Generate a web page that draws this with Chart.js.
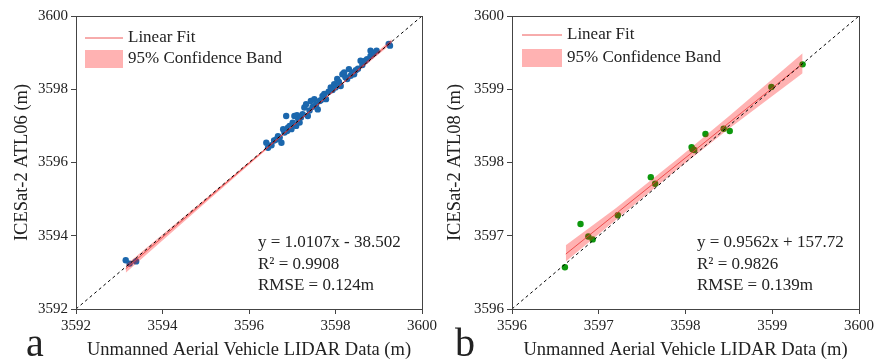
<!DOCTYPE html>
<html>
<head>
<meta charset="utf-8">
<script src="https://cdn.jsdelivr.net/npm/chart.js@4"></script>
<style>
  html, body { margin: 0; padding: 0; background: #fff; }
  #wrap { position: relative; width: 877px; height: 362px; overflow: hidden; }
  canvas { position: absolute; top: 0; }
  #panelA { left: 0; }
  #panelB { left: 440px; }
</style>
</head>
<body>
<div id="wrap">
  <canvas id="panelA" width="440" height="362"></canvas>
  <canvas id="panelB" width="437" height="362"></canvas>
</div>
<script>
// ---- panel a : ATL06 vs UAV LIDAR ----
const atl06Uav = [3593.15, 3593.24, 3593.39,
  3596.40, 3596.44, 3596.52, 3596.58, 3596.63, 3596.67, 3596.71, 3596.75, 3596.79, 3596.82,
  3596.86, 3596.88, 3596.90, 3596.94, 3596.98, 3597.01, 3597.05, 3597.09, 3597.11, 3597.14,
  3597.17, 3597.20, 3597.24, 3597.28, 3597.32, 3597.36, 3597.40, 3597.43, 3597.47, 3597.51,
  3597.55, 3597.59, 3597.63, 3597.66, 3597.70, 3597.74, 3597.78, 3597.84, 3597.89, 3597.93,
  3597.97, 3598.00, 3598.04, 3598.08, 3598.12, 3598.16, 3598.20, 3598.23, 3598.27, 3598.31,
  3598.35, 3598.39, 3598.43, 3598.47, 3598.52, 3598.58, 3598.62, 3598.69, 3598.73, 3598.81,
  3598.81, 3598.85, 3598.90, 3598.95, 3599.23, 3599.26];
const atl06Ice = [3593.33, 3593.24, 3593.30,
  3596.54, 3596.40, 3596.47, 3596.60, 3596.63, 3596.72, 3596.68, 3596.54, 3596.91, 3596.82,
  3597.27, 3596.86, 3596.95, 3597.00, 3596.91, 3597.09, 3597.27, 3597.00, 3597.29, 3597.18,
  3597.09, 3597.23, 3597.32, 3597.50, 3597.59, 3597.27, 3597.42, 3597.68, 3597.52, 3597.73,
  3597.58, 3597.45, 3597.68, 3597.70, 3597.82, 3597.87, 3597.73, 3597.93, 3598.05, 3597.98,
  3598.14, 3598.05, 3598.28, 3598.20, 3598.09, 3598.41, 3598.46, 3598.33, 3598.28, 3598.55,
  3598.37, 3598.46, 3598.41, 3598.52, 3598.56, 3598.78, 3598.66, 3598.78, 3598.82, 3598.91,
  3599.05, 3598.96, 3599.00, 3599.05, 3599.24, 3599.19];
const fitA_x = [3593.15, 3599.30];
const fitA_y = [3593.10, 3599.31];
const bandA_x = [3593.15, 3595.00, 3597.00, 3598.00, 3599.30];
const bandA_hi = [3593.20, 3595.02, 3597.01, 3598.02, 3599.37];
const bandA_lo = [3592.99, 3594.91, 3596.96, 3597.97, 3599.25];
const statsA = ['y = 1.0107x - 38.502', 'R² = 0.9908', 'RMSE = 0.124m'];

// ---- panel b : ATL08 vs UAV LIDAR ----
const atl08Uav = [3596.61, 3596.79, 3596.88, 3596.93, 3597.22, 3597.60, 3597.65, 3598.07,
  3598.08, 3598.10, 3598.23, 3598.44, 3598.51, 3598.99, 3599.35];
const atl08Ice = [3596.57, 3597.16, 3596.99, 3596.95, 3597.28, 3597.80, 3597.71, 3598.21,
  3598.18, 3598.17, 3598.39, 3598.46, 3598.43, 3599.03, 3599.34];
const fitB_x = [3596.62, 3599.35];
const fitB_y = [3596.75, 3599.35];
const bandB_x = [3596.62, 3597.20, 3597.90, 3598.50, 3599.35];
const bandB_hi = [3596.87, 3597.38, 3598.04, 3598.63, 3599.49];
const bandB_lo = [3596.65, 3597.22, 3597.90, 3598.46, 3599.22];
const statsB = ['y = 0.9562x + 157.72', 'R² = 0.9826', 'RMSE = 0.139m'];

const legendLabels = ['Linear Fit', '95% Confidence Band'];
const xTitle = 'Unmanned Aerial Vehicle LIDAR Data (m)';

const SERIF = '"Liberation Serif", "DejaVu Serif", serif';
const BAND = 'rgba(255,0,0,0.3)';
const FIT = 'rgba(235,60,60,0.85)';
const INK = '#222';

const pts = (xs, ys) => xs.map((x, i) => ({ x: x, y: ys[i] }));

const overlay = {
  id: 'overlay',
  afterDraw(chart, args, o) {
    const ctx = chart.ctx, a = chart.chartArea;
    ctx.save();
    ctx.strokeStyle = '#444';
    ctx.lineWidth = 1;
    ctx.strokeRect(Math.round(a.left) + 0.5, Math.round(a.top) + 0.5,
      Math.round(a.right - a.left), Math.round(a.bottom - a.top));

    // legend
    const lg = o.legend;
    ctx.strokeStyle = FIT;
    ctx.beginPath();
    ctx.moveTo(lg.x, lg.y1);
    ctx.lineTo(lg.x + lg.w, lg.y1);
    ctx.stroke();
    ctx.fillStyle = BAND;
    ctx.fillRect(lg.x, lg.y2 - 9, lg.w, 18);
    ctx.fillStyle = INK;
    ctx.font = '17px ' + SERIF;
    ctx.textBaseline = 'middle';
    ctx.textAlign = 'left';
    ctx.fillText(legendLabels[0], lg.x + lg.w + 5, lg.y1);
    ctx.fillText(legendLabels[1], lg.x + lg.w + 5, lg.y2);

    // regression stats
    o.stats.forEach((t, i) => ctx.fillText(t, o.statsX, o.statsY + i * 21.5));

    // axis titles
    ctx.font = '18.5px ' + SERIF;
    ctx.textAlign = 'center';
    ctx.fillText(xTitle, (a.left + a.right) / 2, 350);
    ctx.save();
    ctx.translate(o.yTitleX, (a.top + a.bottom) / 2);
    ctx.rotate(-Math.PI / 2);
    ctx.fillText(o.yTitle, 0, 0);
    ctx.restore();

    // panel letter
    ctx.font = '40px ' + SERIF;
    ctx.textAlign = 'left';
    ctx.textBaseline = 'alphabetic';
    ctx.fillText(o.letter, o.letterX, 356);
    ctx.restore();
  }
};

function makePanel(id, p) {
  const axis = (min, max, step, fit) => ({
    type: 'linear', min: min, max: max,
    ticks: { stepSize: step, color: INK, font: { family: SERIF, size: 15 }, padding: 3,
      maxRotation: 0, callback: v => String(v) },
    grid: { display: true, drawOnChartArea: false, drawTicks: true, tickLength: 5, color: '#444' },
    border: { display: true, color: '#444', width: 1 },
    afterFit: fit
  });
  new Chart(document.getElementById(id), {
    type: 'scatter',
    data: {
      datasets: [
        { data: pts([p.min, p.max], [p.min, p.max]), showLine: true, pointRadius: 0,
          borderColor: '#000', borderWidth: 1, borderDash: [3, 3] },
        { data: pts(p.fitX, p.fitY), showLine: true, pointRadius: 0, borderColor: FIT, borderWidth: 1 },
        { data: pts(p.bandX, p.bandHi), showLine: true, pointRadius: 0, borderColor: 'rgba(0,0,0,0)',
          borderWidth: 0, backgroundColor: BAND, fill: '+1' },
        { data: pts(p.bandX, p.bandLo), showLine: true, pointRadius: 0, borderColor: 'rgba(0,0,0,0)',
          borderWidth: 0, fill: false },
        { data: pts(p.xs, p.ys), pointRadius: 3.2, pointBorderWidth: 0,
          backgroundColor: p.color, borderColor: p.color }
      ]
    },
    options: {
      responsive: false, animation: false, devicePixelRatio: 1,
      layout: { padding: { left: 0, top: 16, right: p.padRight, bottom: 0 } },
      plugins: { legend: { display: false }, tooltip: { enabled: false }, overlay: p.overlay },
      scales: {
        x: axis(p.min, p.max, p.step, s => { s.height = 53; }),
        y: axis(p.min, p.max, p.step, s => { s.width = p.yWidth; })
      }
    },
    plugins: [overlay]
  });
}

makePanel('panelA', {
  xs: atl06Uav, ys: atl06Ice, fitX: fitA_x, fitY: fitA_y,
  bandX: bandA_x, bandHi: bandA_hi, bandLo: bandA_lo,
  min: 3592, max: 3600, step: 2, color: '#1b67ad', yWidth: 76, padRight: 15,
  overlay: { legend: { x: 85, w: 38, y1: 38, y2: 59 }, stats: statsA, statsX: 258, statsY: 243,
    yTitle: 'ICESat-2 ATL06 (m)', yTitleX: 22, letter: 'a', letterX: 26 }
});

makePanel('panelB', {
  xs: atl08Uav, ys: atl08Ice, fitX: fitB_x, fitY: fitB_y,
  bandX: bandB_x, bandHi: bandB_hi, bandLo: bandB_lo,
  min: 3596, max: 3600, step: 1, color: '#0d980d', yWidth: 72, padRight: 16,
  overlay: { legend: { x: 82, w: 40, y1: 35, y2: 58 }, stats: statsB, statsX: 257, statsY: 243,
    yTitle: 'ICESat-2 ATL08 (m)', yTitleX: 15, letter: 'b', letterX: 15 }
});
</script>
</body>
</html>
